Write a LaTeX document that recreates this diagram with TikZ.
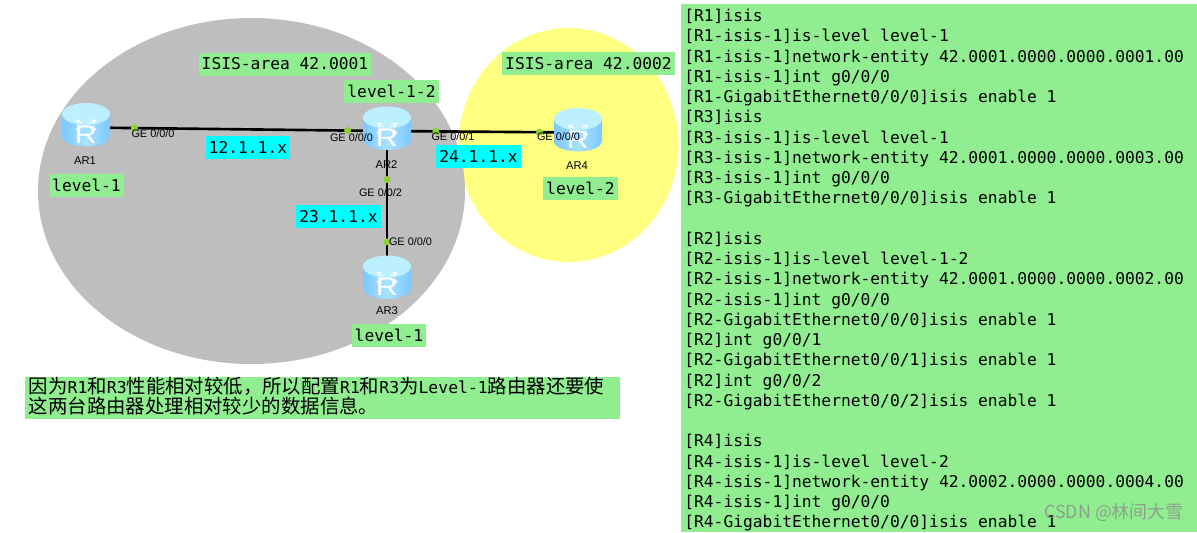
\documentclass[tikz,border=0pt]{standalone}
\usepackage{fontspec}
\setmainfont{Liberation Sans}
\newfontfamily\monofont{DejaVu Sans Mono}
\newfontfamily\cjkfont{Noto Sans CJK SC}
\usetikzlibrary{arrows.meta, shapes.geometric}
\definecolor{labelgreen}{HTML}{90EE90}
\definecolor{labelcyan}{HTML}{00FFFF}
\definecolor{areagray}{HTML}{BEBEBE}
\definecolor{areayellow}{HTML}{FFFF80}
\definecolor{portgreen}{HTML}{8CD22E}
\definecolor{routerlight}{HTML}{BCF0FF}
\definecolor{routermid}{HTML}{A8E2FF}
\definecolor{routerside}{HTML}{7CC8FF}
\newcommand{\latinpart}[1]{{\monofont\fontsize{9.35}{11}\selectfont #1}}
\tikzset{
  tag/.style={fill=labelgreen, inner sep=0pt, font=\monofont\fontsize{9.26}{11}\selectfont, minimum height=23*0.02cm},
  subnet/.style={fill=labelcyan, inner sep=0pt, font=\monofont\fontsize{9.26}{11}\selectfont, minimum width=84.5*0.02cm, minimum height=23*0.02cm},
  ge/.style={inner sep=0pt, text=black, font=\fontsize{6.2}{7}\selectfont},
  devname/.style={inner sep=0pt, text=black, font=\fontsize{6.4}{8}\selectfont},
  link/.style={line width=1.5pt, black},
  port/.style={circle, fill=portgreen, inner sep=0pt, minimum size=7*0.02cm},
  anchorpt/.style={inner sep=0pt, minimum size=0pt},
}
% router icon, drawn round the current origin
\newcommand{\routericon}[1]{
  \shade[left color=routerside, right color=routerside, middle color=routermid]
    (-24,-11) -- (-24,10.5) .. controls (-24,25) and (24,25) .. (24,10.5) -- (24,-11) -- cycle;
  \fill[routerlight] (0,-11) ellipse (24 and 11);
  \foreach \a in {45,135,225,315} {
    \draw[white, opacity=0.8, line width=0.7pt, -{Stealth[length=3pt,width=3.5pt]}, yscale=0.48, rotate=\a] (5,0) -- (15,0);
  }
  \node[inner sep=0pt, text=white, xscale=1.2, font=\fontsize{14.5}{15}\selectfont] (#1) at (0,9.7) {R};
}
\begin{document}
\begin{tikzpicture}[x=0.02cm, y=-0.02cm]
  \useasboundingbox (0,0) rectangle (1197,532);
  % Areas
  \fill[areayellow] (568.5,145) ellipse (110 and 117);
  \fill[areagray] (251.5,191) ellipse (213.5 and 173);
  % Devices
  \node[anchorpt] (ar1) at (86,127.5) {};
  \node[anchorpt] (ar2) at (387,131) {};
  \node[anchorpt] (ar3) at (387,280) {};
  \node[anchorpt] (ar4) at (578,132.5) {};
  % Links
  \draw[link] (ar1) -- (ar2) node[port, pos=0.16] (p10) {} node[port, pos=0.87] (p20) {};
  \draw[link] (ar2) -- (ar4) node[port, pos=0.255] (p21) {} node[port, pos=0.80] (p40) {};
  \draw[link] (ar2) -- (ar3) node[port, pos=0.325] (p22) {} node[port, pos=0.745] (p30) {};
  \begin{scope}[shift={(86,125)}] \routericon{r1} \end{scope}
  \begin{scope}[shift={(387,128.5)}] \routericon{r2} \end{scope}
  \begin{scope}[shift={(387,277.5)}] \routericon{r3} \end{scope}
  \begin{scope}[shift={(578,130)}] \routericon{r4} \end{scope}
  \node[devname] (n1) at (85,161) {AR1};
  \node[devname] (n2) at (386.5,164.5) {AR2};
  \node[devname] (n3) at (387,311) {AR3};
  \node[devname] (n4) at (577,166) {AR4};
  % Port labels
  \node[ge] (g10) at (153,133.5) {GE 0/0/0};
  \node[ge] (g20) at (351.5,137.5) {GE 0/0/0};
  \node[ge] (g21) at (453,137) {GE 0/0/1};
  \node[ge] (g40) at (558.5,137) {GE 0/0/0};
  \node[ge] (g22) at (380.5,193) {GE 0/0/2};
  \node[ge] (g30) at (410.5,242) {GE 0/0/0};
  % Labels
  \node[subnet] (s12) at (248,147.5) {12.1.1.x};
  \node[subnet] (s24) at (478.5,156.5) {24.1.1.x};
  \node[subnet] (s23) at (338.5,216.5) {23.1.1.x};
  \node[tag, minimum width=172*0.02cm] (a1) at (285,64) {ISIS-area 42.0001};
  \node[tag, minimum width=173*0.02cm] (a2) at (588.5,63.5) {ISIS-area 42.0002};
  \node[tag, minimum width=95*0.02cm] (l2) at (391.5,91) {level-1-2};
  \node[tag, minimum width=74*0.02cm] (l1) at (86.5,185.5) {level-1};
  \node[tag, minimum width=74*0.02cm] (l3) at (389,335.5) {level-1};
  \node[tag, minimum width=75*0.02cm] (l4) at (580.5,188.5) {level-2};
  % Note
  \fill[labelgreen] (25,377) rectangle (620,419);
  \node[anchor=west, inner sep=0pt, font=\cjkfont\fontsize{11.05}{11.4}\selectfont, align=left] (note) at (28.5,396)
    {因为\latinpart{R1}和\latinpart{R3}性能相对较低，所以配置\latinpart{R1}和\latinpart{R3}为\latinpart{Level-1}路由器还要使\\
     这两台路由器处理相对较少的数据信息。};
  % Configuration
  \fill[labelgreen] (681,4) rectangle (1197,532);
  \node[anchor=north west, inner sep=0pt, font=\monofont\fontsize{9.26}{11.52}\selectfont, align=left] (config) at (684,9) {%
    [R1]isis\\{}[R1-isis-1]is-level level-1\\{}[R1-isis-1]network-entity 42.0001.0000.0000.0001.00\\{}[R1-isis-1]int g0/0/0\\{}[R1-GigabitEthernet0/0/0]isis enable 1\\{}%
    [R3]isis\\{}[R3-isis-1]is-level level-1\\{}[R3-isis-1]network-entity 42.0001.0000.0000.0003.00\\{}[R3-isis-1]int g0/0/0\\{}[R3-GigabitEthernet0/0/0]isis enable 1\\{}\\{}%
    [R2]isis\\{}[R2-isis-1]is-level level-1-2\\{}[R2-isis-1]network-entity 42.0001.0000.0000.0002.00\\{}[R2-isis-1]int g0/0/0\\{}[R2-GigabitEthernet0/0/0]isis enable 1\\{}[R2]int g0/0/1\\{}[R2-GigabitEthernet0/0/1]isis enable 1\\{}[R2]int g0/0/2\\{}[R2-GigabitEthernet0/0/2]isis enable 1\\{}\\{}%
    [R4]isis\\{}[R4-isis-1]is-level level-2\\{}[R4-isis-1]network-entity 42.0002.0000.0000.0004.00\\{}[R4-isis-1]int g0/0/0\\{}[R4-GigabitEthernet0/0/0]isis enable 1};
  % Watermark
  \node[anchor=east, inner sep=0pt, text=black!45, opacity=0.8, font=\cjkfont\fontsize{10.2}{12}\selectfont] (mark) at (1184,513) {CSDN @林间大雪};
\end{tikzpicture}
\end{document}
